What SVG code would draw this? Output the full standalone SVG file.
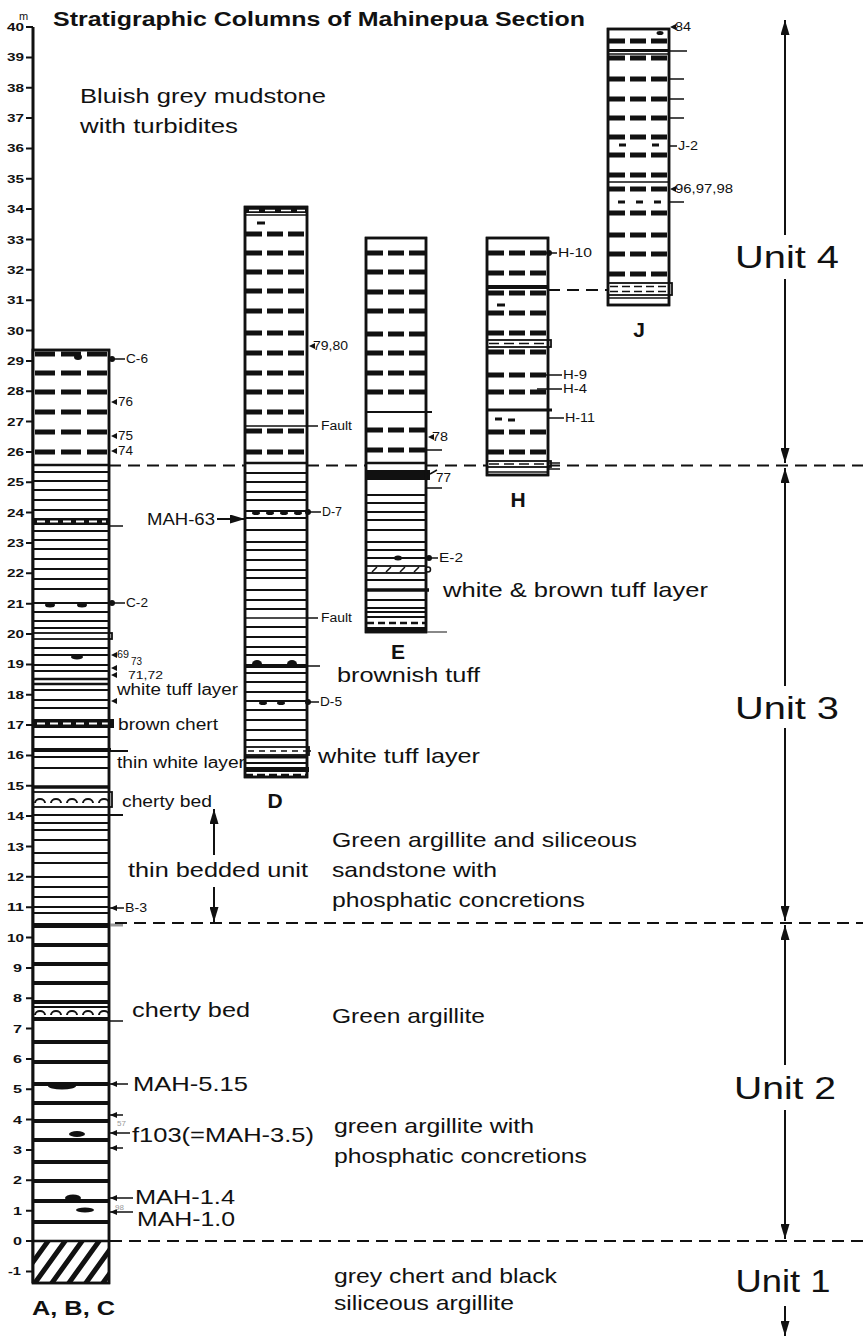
<svg xmlns="http://www.w3.org/2000/svg" width="863" height="1339" viewBox="0 0 863 1339">
<defs>
<style>
text{font-family:"Liberation Sans",Arial,Helvetica,sans-serif;fill:#111}
.ax{font-size:11px;font-weight:bold}
.sm{font-size:12px}
.md{font-size:16px}
.lg{font-size:21px}
.bd{font-weight:bold}
.un{font-size:32px}
.col{fill:#fff;stroke:#111;stroke-width:2.5}
.l{stroke:#111;stroke-width:2;fill:none}
.t{stroke:#111;stroke-width:4;fill:none}
.dA{stroke:#111;stroke-width:5;stroke-dasharray:20 6}
.dD{stroke:#111;stroke-width:5;stroke-dasharray:16 5}
.ub{stroke:#111;stroke-width:2;stroke-dasharray:12 7;fill:none}
.ar{stroke:#111;stroke-width:2;fill:none}
.ld{stroke:#111;stroke-width:1.5;fill:none}
.wd{stroke:#fff;stroke-width:2;stroke-dasharray:8 5}
.bx{fill:none;stroke:#111;stroke-width:1.8}
.blk{fill:#111}
.gr{fill:#999;font-size:8px}
</style>
<marker id="ah" viewBox="0 0 15 9" refX="15" refY="4.5" markerWidth="15" markerHeight="9" markerUnits="userSpaceOnUse" orient="auto"><path d="M0,0 L15,4.5 L0,9 z" fill="#111"/></marker>
<marker id="sa" viewBox="0 0 7 6" refX="7" refY="3" markerWidth="7" markerHeight="6" markerUnits="userSpaceOnUse" orient="auto"><path d="M0,0 L7,3 L0,6 z" fill="#111"/></marker>
<clipPath id="hc"><rect x="33" y="1241" width="76" height="42"/></clipPath>
</defs>
<rect width="863" height="1339" fill="#fff"/>

<g id="title">
<text class="bd" x="53" y="26" font-size="20" textLength="532" lengthAdjust="spacingAndGlyphs">Stratigraphic Columns of Mahinepua Section</text>
</g>

<g id="axis">
<line x1="33" y1="27" x2="33" y2="1283" stroke="#111" stroke-width="3"/>
<path stroke="#111" stroke-width="2" fill="none" d="M26,27H33M26,57.4H33M26,87.7H33M26,118H33M26,148.4H33M26,178.8H33M26,209.1H33M26,239.5H33M26,269.8H33M26,300.2H33M26,330.5H33M26,360.9H33M26,391.2H33M26,421.6H33M26,451.9H33M26,482.3H33M26,512.6H33M26,543H33M26,573.3H33M26,603.7H33M26,634H33M26,664.4H33M26,694.7H33M26,725.1H33M26,755.4H33M26,785.8H33M26,816.1H33M26,846.5H33M26,876.8H33M26,907.2H33M26,937.5H33M26,967.9H33M26,998.2H33M26,1028.6H33M26,1058.9H33M26,1089.3H33M26,1119.6H33M26,1150H33M26,1180.3H33M26,1210.7H33M26,1241H33M26,1271.4H33"/>
<text x="19" y="20" font-size="11">m</text>
<g class="ax">
<text x="7" y="31" textLength="17" lengthAdjust="spacingAndGlyphs">40</text>
<text x="7" y="61.4" textLength="17" lengthAdjust="spacingAndGlyphs">39</text>
<text x="7" y="91.7" textLength="17" lengthAdjust="spacingAndGlyphs">38</text>
<text x="7" y="122" textLength="17" lengthAdjust="spacingAndGlyphs">37</text>
<text x="7" y="152.4" textLength="17" lengthAdjust="spacingAndGlyphs">36</text>
<text x="7" y="182.8" textLength="17" lengthAdjust="spacingAndGlyphs">35</text>
<text x="7" y="213.1" textLength="17" lengthAdjust="spacingAndGlyphs">34</text>
<text x="7" y="243.5" textLength="17" lengthAdjust="spacingAndGlyphs">33</text>
<text x="7" y="273.8" textLength="17" lengthAdjust="spacingAndGlyphs">32</text>
<text x="7" y="304.2" textLength="17" lengthAdjust="spacingAndGlyphs">31</text>
<text x="7" y="334.5" textLength="17" lengthAdjust="spacingAndGlyphs">30</text>
<text x="7" y="364.9" textLength="17" lengthAdjust="spacingAndGlyphs">29</text>
<text x="7" y="395.2" textLength="17" lengthAdjust="spacingAndGlyphs">28</text>
<text x="7" y="425.6" textLength="17" lengthAdjust="spacingAndGlyphs">27</text>
<text x="7" y="455.9" textLength="17" lengthAdjust="spacingAndGlyphs">26</text>
<text x="7" y="486.3" textLength="17" lengthAdjust="spacingAndGlyphs">25</text>
<text x="7" y="516.6" textLength="17" lengthAdjust="spacingAndGlyphs">24</text>
<text x="7" y="547" textLength="17" lengthAdjust="spacingAndGlyphs">23</text>
<text x="7" y="577.3" textLength="17" lengthAdjust="spacingAndGlyphs">22</text>
<text x="7" y="607.7" textLength="17" lengthAdjust="spacingAndGlyphs">21</text>
<text x="7" y="638" textLength="17" lengthAdjust="spacingAndGlyphs">20</text>
<text x="7" y="668.4" textLength="17" lengthAdjust="spacingAndGlyphs">19</text>
<text x="7" y="698.7" textLength="17" lengthAdjust="spacingAndGlyphs">18</text>
<text x="7" y="729.1" textLength="17" lengthAdjust="spacingAndGlyphs">17</text>
<text x="7" y="759.4" textLength="17" lengthAdjust="spacingAndGlyphs">16</text>
<text x="7" y="789.8" textLength="17" lengthAdjust="spacingAndGlyphs">15</text>
<text x="7" y="820.1" textLength="17" lengthAdjust="spacingAndGlyphs">14</text>
<text x="7" y="850.5" textLength="17" lengthAdjust="spacingAndGlyphs">13</text>
<text x="7" y="880.8" textLength="17" lengthAdjust="spacingAndGlyphs">12</text>
<text x="7" y="911.2" textLength="17" lengthAdjust="spacingAndGlyphs">11</text>
<text x="7" y="941.5" textLength="17" lengthAdjust="spacingAndGlyphs">10</text>
<text x="13" y="971.9" textLength="9" lengthAdjust="spacingAndGlyphs">9</text>
<text x="13" y="1002.2" textLength="9" lengthAdjust="spacingAndGlyphs">8</text>
<text x="13" y="1032.6" textLength="9" lengthAdjust="spacingAndGlyphs">7</text>
<text x="13" y="1062.9" textLength="9" lengthAdjust="spacingAndGlyphs">6</text>
<text x="13" y="1093.3" textLength="9" lengthAdjust="spacingAndGlyphs">5</text>
<text x="13" y="1123.6" textLength="9" lengthAdjust="spacingAndGlyphs">4</text>
<text x="13" y="1154" textLength="9" lengthAdjust="spacingAndGlyphs">3</text>
<text x="13" y="1184.3" textLength="9" lengthAdjust="spacingAndGlyphs">2</text>
<text x="13" y="1214.7" textLength="9" lengthAdjust="spacingAndGlyphs">1</text>
<text x="13" y="1245" textLength="9" lengthAdjust="spacingAndGlyphs">0</text>
<text x="8" y="1275.4" textLength="13" lengthAdjust="spacingAndGlyphs">-1</text>
</g>
</g>

<g id="col-ABC">
<rect class="col" x="33" y="350" width="76" height="933"/>
<path class="dA" d="M35,354H107M35,373H107M35,392H107M35,412H107M35,432H107M35,452H107"/>
<ellipse class="blk" cx="78" cy="357" rx="4" ry="3"/>
<line x1="33" y1="465" x2="109" y2="465" stroke="#111" stroke-width="2.5"/>
<path class="l" d="M33,472H109M33,481H109M33,490H109M33,500H109M33,510H109M33,531H109M33,540H109M33,549H109M33,559H109M33,569H109M33,579H109M33,589H109M33,603H109M33,612H109M33,621H109M33,628H109M33,648H109M33,655H109M33,665H109M33,671H109M33,690H109M33,700H109M33,708H109M33,737H109M33,757H109M33,768H109M33,815H123M33,823H109M33,830H109M33,840H109M33,853H109M33,863H109M33,877H109M33,887H109M33,897H109M33,907H109M33,913H109M33,751H128"/>
<rect class="blk" x="33" y="518" width="76" height="7"/>
<line class="wd" x1="37" y1="521.5" x2="106" y2="521.5"/>
<line class="ld" x1="109" y1="526" x2="123" y2="526"/>
<ellipse class="blk" cx="50" cy="605" rx="5" ry="2.5"/>
<ellipse class="blk" cx="82" cy="605" rx="5" ry="2.5"/>
<rect class="bx" x="33" y="633" width="79" height="6"/>
<ellipse class="blk" cx="77" cy="657" rx="6" ry="2.5"/>
<path d="M33,679H109M33,684H109" stroke="#111" stroke-width="2.5"/>
<rect class="blk" x="33" y="719" width="81" height="9"/>
<line class="wd" x1="37" y1="723.5" x2="111" y2="723.5"/>
<line x1="33" y1="750" x2="111" y2="750" stroke="#111" stroke-width="4"/>
<line x1="33" y1="787" x2="109" y2="787" stroke="#111" stroke-width="3.5"/>
<rect class="bx" x="33" y="792" width="79" height="15"/>
<path class="l" d="M35,803a5,4 0 0 1 10,0m6,0a5,4 0 0 1 10,0m6,0a5,4 0 0 1 10,0m6,0a5,4 0 0 1 10,0m6,0a5,4 0 0 1 10,0"/>
<rect class="blk" x="33" y="923" width="76" height="5"/>
<line x1="109" y1="925" x2="123" y2="925" stroke="#999" stroke-width="3"/>
<path class="t" d="M33,945H109M33,964H109M33,983H109M33,1002H109M33,1042H109M33,1062H109M33,1084H109M33,1103H109M33,1121H109M33,1140H109M33,1162H109M33,1181H109M33,1201H109M33,1222H109"/>
<line class="l" x1="33" y1="1007" x2="109" y2="1007"/>
<path class="l" d="M35,1015a5,4 0 0 1 10,0m6,0a5,4 0 0 1 10,0m6,0a5,4 0 0 1 10,0m6,0a5,4 0 0 1 10,0m6,0a5,4 0 0 1 10,0"/>
<line class="t" x1="33" y1="1019" x2="109" y2="1019"/>
<line class="ld" x1="109" y1="1021" x2="123" y2="1021"/>
<ellipse class="blk" cx="62" cy="1086" rx="14" ry="3.5"/>
<ellipse class="blk" cx="77" cy="1134" rx="8" ry="3"/>
<ellipse class="blk" cx="73" cy="1198" rx="8" ry="3.5"/>
<ellipse class="blk" cx="85" cy="1210" rx="9" ry="2.5"/>
<line x1="33" y1="1241" x2="109" y2="1241" stroke="#111" stroke-width="2.5"/>
<g clip-path="url(#hc)"><path stroke="#111" stroke-width="5" d="M15,1287L51,1237M32,1287L68,1237M49,1287L85,1237M66,1287L102,1237M83,1287L119,1237M100,1287L136,1237"/></g>
<rect x="33" y="350" width="76" height="933" fill="none" stroke="#111" stroke-width="2.5"/>
<text class="lg bd" x="32" y="1315" textLength="83" lengthAdjust="spacingAndGlyphs">A, B, C</text>
</g>

<g id="col-D">
<rect class="col" x="245" y="207" width="62" height="570"/>
<line x1="245" y1="210.5" x2="307" y2="210.5" stroke="#111" stroke-width="5"/>
<line x1="249" y1="210.5" x2="305" y2="210.5" stroke="#fff" stroke-width="1.5" stroke-dasharray="10 6"/>
<line class="ld" x1="245" y1="215" x2="307" y2="215"/>
<line x1="257" y1="223" x2="265" y2="223" stroke="#111" stroke-width="3"/>
<path class="dD" d="M246,234H306M246,253H306M246,272H306M246,291H306M246,311H306M246,333H306M246,353H306M246,373H306M246,392H306M246,412H306M246,431H306M246,452H306"/>
<line x1="245" y1="463" x2="307" y2="463" stroke="#111" stroke-width="2.5"/>
<path class="l" d="M245,473H307M245,482H307M245,492H307M245,500H307M245,511H307M245,518H307M245,530H307M245,542H307M245,550H307M245,560H307M245,570H307M245,578H307M245,590H307M245,600H307M245,609H307M245,627H307M245,637H307M245,647H307M245,655H307M245,673H307M245,682H307M245,692H307M245,701H307M245,710H307M245,720H307M245,730H307M245,740H307M245,763H307"/>
<ellipse class="blk" cx="256" cy="513" rx="4" ry="2"/>
<ellipse class="blk" cx="270" cy="513" rx="4" ry="2"/>
<ellipse class="blk" cx="284" cy="513" rx="4" ry="2"/>
<ellipse class="blk" cx="298" cy="513" rx="4" ry="2"/>
<line class="t" x1="245" y1="666" x2="307" y2="666"/>
<ellipse class="blk" cx="257" cy="664" rx="5" ry="4"/>
<ellipse class="blk" cx="292" cy="664" rx="5" ry="4"/>
<ellipse class="blk" cx="263" cy="703" rx="4" ry="2"/>
<ellipse class="blk" cx="281" cy="703" rx="4" ry="2"/>
<rect class="bx" x="245" y="747" width="64" height="8"/>
<line x1="248" y1="751" x2="306" y2="751" stroke="#111" stroke-width="1.5" stroke-dasharray="6 5"/>
<line x1="245" y1="757" x2="307" y2="757" stroke="#111" stroke-width="3"/>
<rect class="blk" x="245" y="767" width="64" height="5"/>
<line x1="245" y1="775" x2="307" y2="775" stroke="#111" stroke-width="2.5" stroke-dasharray="8 4"/>
<rect x="245" y="207" width="62" height="570" fill="none" stroke="#111" stroke-width="2.5"/>
<text class="lg bd" x="275" y="808" text-anchor="middle">D</text>
</g>

<g id="col-E">
<rect class="col" x="366" y="238" width="60" height="394"/>
<path class="dD" d="M367,253H425M367,272H425M367,292H425M367,311H425M367,334H425M367,353H425M367,373H425M367,392H425M367,430H425M367,450H425"/>
<line class="l" x1="366" y1="412" x2="432" y2="412"/>
<line x1="366" y1="463" x2="426" y2="463" stroke="#111" stroke-width="2.5"/>
<rect class="blk" x="366" y="470" width="64" height="10"/>
<path class="l" d="M366,495H426M366,503H426M366,512H426M366,520H426M366,530H426M366,542H426M366,550H426M366,558H426M366,580H426M366,600H426M366,608H426M366,612H426M366,617H426"/>
<ellipse class="blk" cx="398" cy="558" rx="4" ry="2.5"/>
<rect class="bx" x="366" y="566" width="60" height="7" stroke-width="1.5"/>
<path class="ld" d="M372,572l5,-5M386,572l5,-5M400,572l5,-5M414,572l5,-5"/>
<circle cx="428" cy="569.5" r="2.5" fill="#fff" stroke="#111" stroke-width="1.5"/>
<line x1="366" y1="590" x2="429" y2="590" stroke="#111" stroke-width="3.5"/>
<line x1="367" y1="623" x2="425" y2="623" stroke="#111" stroke-width="2.5" stroke-dasharray="7 4"/>
<line class="t" x1="366" y1="629" x2="426" y2="629"/>
<line x1="426" y1="632" x2="447" y2="632" stroke="#888" stroke-width="2"/>
<rect x="366" y="238" width="60" height="394" fill="none" stroke="#111" stroke-width="2.5"/>
<text class="lg bd" x="398" y="659" text-anchor="middle">E</text>
</g>

<g id="col-H">
<rect class="col" x="487" y="238" width="61" height="237"/>
<path class="dD" d="M488,253H547M488,273H547M488,293H547M488,313H547M488,333H547M488,352H547M488,375H547M488,392H547M488,432H547M488,452H547"/>
<line class="t" x1="487" y1="287" x2="548" y2="287"/>
<line x1="497" y1="305" x2="505" y2="305" stroke="#111" stroke-width="3"/>
<rect class="bx" x="487" y="340" width="64" height="7" stroke-width="2"/>
<line x1="489" y1="343.5" x2="549" y2="343.5" stroke="#111" stroke-width="1.5" stroke-dasharray="10 5"/>
<line x1="487" y1="410" x2="552" y2="410" stroke="#111" stroke-width="3"/>
<line x1="495" y1="419" x2="502" y2="419" stroke="#111" stroke-width="3"/>
<line x1="508" y1="420" x2="515" y2="420" stroke="#111" stroke-width="3"/>
<rect class="bx" x="487" y="461" width="64" height="6" stroke-width="2"/>
<line x1="489" y1="464" x2="549" y2="464" stroke="#111" stroke-width="1.5" stroke-dasharray="10 5"/>
<line class="ld" x1="487" y1="472" x2="548" y2="472"/>
<rect x="487" y="238" width="61" height="237" fill="none" stroke="#111" stroke-width="2.5"/>
<text class="lg bd" x="518" y="507" text-anchor="middle">H</text>
</g>

<g id="col-J">
<rect class="col" x="608" y="29" width="61" height="276"/>
<ellipse class="blk" cx="660" cy="33" rx="3.5" ry="2"/>
<path class="dD" d="M609,41H668M609,58H668M609,79H668M609,99H668M609,118H668M609,137H668M609,155H668M609,175H668M609,189H668M609,213H668M609,235H668M609,254H668M609,274H668"/>
<line x1="608" y1="50.5" x2="669" y2="50.5" stroke="#111" stroke-width="3"/>
<line class="ld" x1="608" y1="54" x2="669" y2="54"/>
<path stroke="#111" stroke-width="3" d="M619,145h7M652,145h7M618,202h7M636,202h7M654,202h7"/>
<line class="ld" x1="608" y1="182" x2="669" y2="182"/>
<rect class="bx" x="608" y="283" width="64" height="12"/>
<path stroke="#111" stroke-width="1.5" stroke-dasharray="8 4" d="M610,286.5H668M610,291.5H668"/>
<line class="ld" x1="608" y1="298" x2="669" y2="298"/>
<rect x="608" y="29" width="61" height="276" fill="none" stroke="#111" stroke-width="2.5"/>
<text class="lg bd" x="639" y="337" text-anchor="middle">J</text>
</g>

<g id="connectors">
<path class="ub" d="M109,465.5H245M307,465.5H366M426,465.5H487M548,465.5H863"/>
<path class="ub" d="M548,290H608"/>
<path class="ub" d="M115,923H863"/>
<path class="ub" d="M110,1241H863"/>
<line class="ar" x1="785" y1="235" x2="785" y2="20" marker-end="url(#ah)"/>
<line class="ar" x1="785" y1="279" x2="785" y2="463" marker-end="url(#ah)"/>
<line class="ar" x1="785" y1="686" x2="785" y2="468" marker-end="url(#ah)"/>
<line class="ar" x1="785" y1="728" x2="785" y2="921" marker-end="url(#ah)"/>
<line class="ar" x1="785" y1="1065" x2="785" y2="925" marker-end="url(#ah)"/>
<line class="ar" x1="785" y1="1110" x2="785" y2="1239" marker-end="url(#ah)"/>
<line class="ar" x1="785" y1="1306" x2="785" y2="1336" marker-end="url(#ah)"/>
<line class="ar" x1="214" y1="855" x2="214" y2="809" marker-end="url(#ah)"/>
<line class="ar" x1="214" y1="887" x2="214" y2="922" marker-end="url(#ah)"/>
<line class="ar" x1="217" y1="519" x2="245" y2="519" marker-end="url(#ah)"/>
<path class="ld" d="M112,359H125M112,603H125M307,512H321M307,702H319M429,558H438M548,253H557M537,375H562M537,389H562M548,418H564M669,146H677M548,463H560M548,469H560M669,51H687M669,79H684M669,99H684M669,118H684M669,202H684M426,450H442M426,488H442M245,426H318M245,618H318M307,666H320M307,751H311M430,474L437,470"/>
<circle class="blk" cx="112" cy="359" r="3"/>
<circle class="blk" cx="112" cy="603" r="3"/>
<circle class="blk" cx="308" cy="512" r="3"/>
<circle class="blk" cx="308" cy="702" r="3"/>
<circle class="blk" cx="429" cy="558" r="3"/>
<circle class="blk" cx="549" cy="253" r="3"/>
<path class="blk" d="M111,402l6,-3v6zM111,436l6,-3v6zM111,451l6,-3v6zM111,655l6,-3v6zM111,668l6,-3v6zM111,675l6,-3v6zM111,701l6,-3v6zM309,346l6,-3v6zM428,437l6,-3v6zM670,27l6,-3v6zM670,189l6,-3v6z"/>
<line class="ld" x1="124" y1="908" x2="110" y2="908" marker-end="url(#sa)"/>
<line class="ld" x1="128" y1="1084" x2="110" y2="1084" marker-end="url(#sa)"/>
<line class="ld" x1="123" y1="1115" x2="110" y2="1115" marker-end="url(#sa)"/>
<line class="ld" x1="130" y1="1133" x2="110" y2="1133" marker-end="url(#sa)"/>
<line class="ld" x1="123" y1="1148" x2="110" y2="1148" marker-end="url(#sa)"/>
<line class="ld" x1="133" y1="1198" x2="110" y2="1198" marker-end="url(#sa)"/>
<line class="ld" x1="133" y1="1212" x2="110" y2="1212" marker-end="url(#sa)"/>
</g>

<g id="labels-samples" class="sm">
<text x="126" y="363" textLength="22" lengthAdjust="spacingAndGlyphs">C-6</text>
<text x="118" y="406" textLength="15" lengthAdjust="spacingAndGlyphs">76</text>
<text x="118" y="440" textLength="15" lengthAdjust="spacingAndGlyphs">75</text>
<text x="118" y="455" textLength="15" lengthAdjust="spacingAndGlyphs">74</text>
<text x="126" y="607" textLength="22" lengthAdjust="spacingAndGlyphs">C-2</text>
<text x="117" y="658" font-size="11" textLength="12" lengthAdjust="spacingAndGlyphs">69</text>
<text x="131" y="665" font-size="11" textLength="11" lengthAdjust="spacingAndGlyphs">73</text>
<text x="128" y="679" font-size="11" textLength="35" lengthAdjust="spacingAndGlyphs">71,72</text>
<text x="125" y="912" textLength="22" lengthAdjust="spacingAndGlyphs">B-3</text>
<text x="313" y="350" textLength="35" lengthAdjust="spacingAndGlyphs">79,80</text>
<text x="321" y="430" textLength="31" lengthAdjust="spacingAndGlyphs">Fault</text>
<text x="321" y="622" textLength="31" lengthAdjust="spacingAndGlyphs">Fault</text>
<text x="322" y="516" textLength="20" lengthAdjust="spacingAndGlyphs">D-7</text>
<text x="320" y="706" textLength="22" lengthAdjust="spacingAndGlyphs">D-5</text>
<text x="432" y="441" textLength="16" lengthAdjust="spacingAndGlyphs">78</text>
<text x="436" y="482" textLength="15" lengthAdjust="spacingAndGlyphs">77</text>
<text x="439" y="562" textLength="24" lengthAdjust="spacingAndGlyphs">E-2</text>
<text x="558" y="257" textLength="34" lengthAdjust="spacingAndGlyphs">H-10</text>
<text x="563" y="379" textLength="24" lengthAdjust="spacingAndGlyphs">H-9</text>
<text x="563" y="393" textLength="24" lengthAdjust="spacingAndGlyphs">H-4</text>
<text x="565" y="422" textLength="30" lengthAdjust="spacingAndGlyphs">H-11</text>
<text x="675" y="31" textLength="16" lengthAdjust="spacingAndGlyphs">84</text>
<text x="678" y="150" textLength="20" lengthAdjust="spacingAndGlyphs">J-2</text>
<text x="675" y="193" textLength="58" lengthAdjust="spacingAndGlyphs">96,97,98</text>
<text class="gr" x="117" y="1126">57</text>
<text class="gr" x="115" y="1210">98</text>
</g>

<g id="labels-beds">
<text class="md" x="117" y="695" textLength="121" lengthAdjust="spacingAndGlyphs">white tuff layer</text>
<text class="md" x="118" y="730" textLength="100" lengthAdjust="spacingAndGlyphs">brown chert</text>
<text class="md" x="117" y="768" textLength="128" lengthAdjust="spacingAndGlyphs">thin white layer</text>
<text class="md" x="122" y="807" textLength="90" lengthAdjust="spacingAndGlyphs">cherty bed</text>
<text x="147" y="525" font-size="16" textLength="68" lengthAdjust="spacingAndGlyphs">MAH-63</text>
<text class="lg" x="337" y="682" textLength="143" lengthAdjust="spacingAndGlyphs">brownish tuff</text>
<text class="lg" x="443" y="597" textLength="265" lengthAdjust="spacingAndGlyphs">white &amp; brown tuff layer</text>
<text class="lg" x="318" y="763" textLength="162" lengthAdjust="spacingAndGlyphs">white tuff layer</text>
<text class="lg" x="128" y="877" textLength="180" lengthAdjust="spacingAndGlyphs">thin bedded unit</text>
<text class="lg" x="132" y="1017" textLength="118" lengthAdjust="spacingAndGlyphs">cherty bed</text>
<text class="lg" x="133" y="1091" textLength="115" lengthAdjust="spacingAndGlyphs">MAH-5.15</text>
<text class="lg" x="132" y="1142" textLength="182" lengthAdjust="spacingAndGlyphs">f103(=MAH-3.5)</text>
<text x="135" y="1204" font-size="20" textLength="100" lengthAdjust="spacingAndGlyphs">MAH-1.4</text>
<text x="137" y="1226" font-size="20" textLength="98" lengthAdjust="spacingAndGlyphs">MAH-1.0</text>
</g>

<g id="labels-lithology" class="lg">
<text x="80" y="103" textLength="246" lengthAdjust="spacingAndGlyphs">Bluish grey mudstone</text>
<text x="80" y="133" textLength="158" lengthAdjust="spacingAndGlyphs">with turbidites</text>
<text x="332" y="847" textLength="305" lengthAdjust="spacingAndGlyphs">Green argillite and siliceous</text>
<text x="332" y="877" textLength="165" lengthAdjust="spacingAndGlyphs">sandstone with</text>
<text x="332" y="907" textLength="253" lengthAdjust="spacingAndGlyphs">phosphatic concretions</text>
<text x="332" y="1023" textLength="153" lengthAdjust="spacingAndGlyphs">Green argillite</text>
<text x="334" y="1133" textLength="200" lengthAdjust="spacingAndGlyphs">green argillite with</text>
<text x="334" y="1163" textLength="253" lengthAdjust="spacingAndGlyphs">phosphatic concretions</text>
<text x="334" y="1283" textLength="223" lengthAdjust="spacingAndGlyphs">grey chert and black</text>
<text x="334" y="1310" textLength="180" lengthAdjust="spacingAndGlyphs">siliceous argillite</text>
</g>

<g id="labels-units" class="un">
<text x="787" y="268" text-anchor="middle" textLength="104" lengthAdjust="spacingAndGlyphs">Unit 4</text>
<text x="787" y="719" text-anchor="middle" textLength="104" lengthAdjust="spacingAndGlyphs">Unit 3</text>
<text x="785" y="1099" text-anchor="middle" textLength="102" lengthAdjust="spacingAndGlyphs">Unit 2</text>
<text x="783" y="1292" text-anchor="middle" textLength="95" lengthAdjust="spacingAndGlyphs">Unit 1</text>
</g>
</svg>
